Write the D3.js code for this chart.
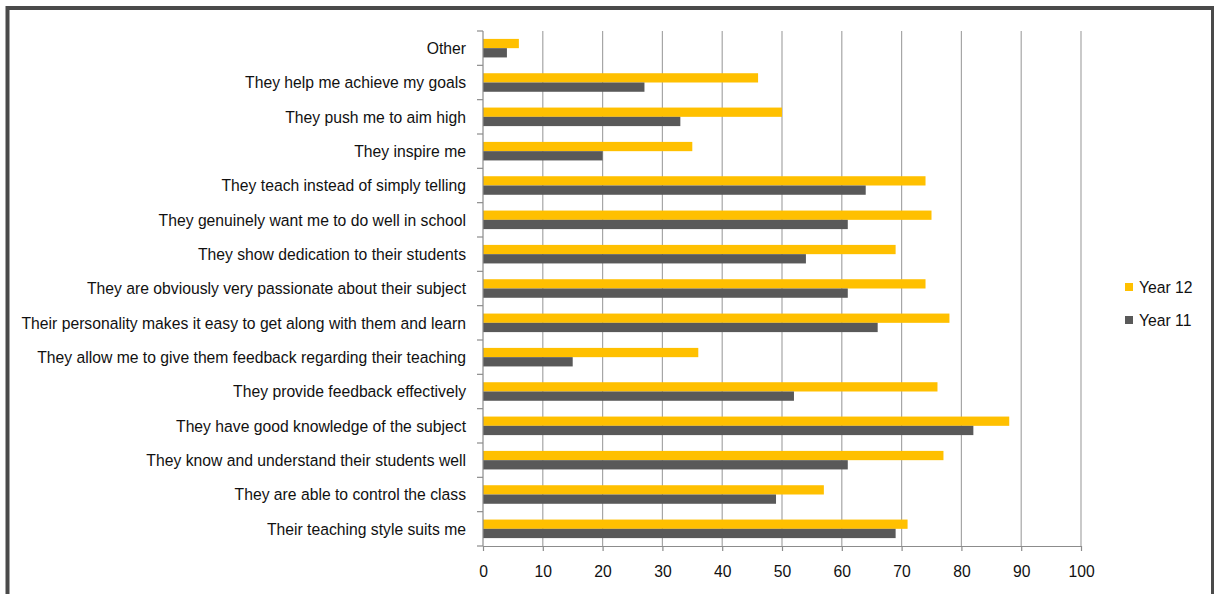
<!DOCTYPE html>
<html>
<head>
<meta charset="utf-8">
<script src="https://cdn.jsdelivr.net/npm/d3@7"></script>
<style>
  html, body { margin: 0; padding: 0; background: #fff; }
  svg { display: block; font-family: "Liberation Sans", Arial, sans-serif; }
</style>
</head>
<body>
<svg id="chart" width="1214" height="594"></svg>
<script>
// Reasons students give for valuing their teachers (percent of respondents)
const categories = [
  "Other",
  "They help me achieve my goals",
  "They push me to aim high",
  "They inspire me",
  "They teach instead of simply telling",
  "They genuinely want me to do well in school",
  "They show dedication to their students",
  "They are obviously very passionate about their subject",
  "Their personality makes it easy to get along with them and learn",
  "They allow me to give them feedback regarding their teaching",
  "They provide feedback effectively",
  "They have good knowledge of the subject",
  "They know and understand their students well",
  "They are able to control the class",
  "Their teaching style suits me"
];
const year12 = [6, 46, 50, 35, 74, 75, 69, 74, 78, 36, 76, 88, 77, 57, 71];
const year11 = [4, 27, 33, 20, 64, 61, 54, 61, 66, 15, 52, 82, 61, 49, 69];
const seriesNames = ["Year 12", "Year 11"];
const seriesColors = ["#FFC000", "#595959"];
const xTicks = [0, 10, 20, 30, 40, 50, 60, 70, 80, 90, 100];

// text is set slightly condensed
const FONT = 17, SQUEEZE = 0.925;

const svg = d3.select("#chart");

// outer frame
svg.append("rect")
  .attr("x", 7.5).attr("y", 8).attr("width", 1205.5).attr("height", 600)
  .attr("fill", "none").attr("stroke", "#4a4a4a").attr("stroke-width", 4);

const plotLeft = 483, plotRight = 1081, plotTop = 31, plotBottom = 546;

const x = d3.scaleLinear().domain([0, 100]).range([plotLeft, plotRight]);
const y = d3.scaleBand().domain(categories).range([plotTop, plotBottom]).paddingInner(0.46).paddingOuter(0.23);
const sub = d3.scaleBand().domain(seriesNames).range([0, y.bandwidth()]);

// vertical gridlines
svg.append("g").selectAll("line")
  .data(xTicks.slice(1))
  .join("line")
  .attr("x1", d => x(d)).attr("x2", d => x(d))
  .attr("y1", plotTop).attr("y2", plotBottom)
  .attr("stroke", "#a6a6a6").attr("stroke-width", 1.2);

// bars
const rows = categories.map((c, i) => ({ c, vals: [year12[i], year11[i]] }));
const groups = svg.append("g").selectAll("g")
  .data(rows)
  .join("g")
  .attr("transform", d => `translate(0,${y(d.c)})`);
groups.selectAll("rect")
  .data(d => d.vals.map((v, k) => ({ v, k })))
  .join("rect")
  .attr("x", x(0))
  .attr("y", d => sub(seriesNames[d.k]))
  .attr("width", d => x(d.v) - x(0))
  .attr("height", sub.bandwidth())
  .attr("fill", d => seriesColors[d.k]);

// category axis (ticks at band boundaries)
const bounds = d3.range(categories.length + 1).map(i => plotTop + i * (plotBottom - plotTop) / categories.length);
svg.append("line")
  .attr("x1", plotLeft).attr("x2", plotLeft).attr("y1", plotTop).attr("y2", plotBottom)
  .attr("stroke", "#8c8c8c").attr("stroke-width", 1.2);
svg.append("g").selectAll("line")
  .data(bounds)
  .join("line")
  .attr("x1", plotLeft - 6).attr("x2", plotLeft)
  .attr("y1", d => d).attr("y2", d => d)
  .attr("stroke", "#8c8c8c").attr("stroke-width", 1.2);
svg.append("g").selectAll("text")
  .data(categories)
  .join("text")
  .attr("transform", d => `translate(${plotLeft - 17},${y(d) + y.bandwidth() / 2}) scale(${SQUEEZE},1)`)
  .attr("dy", "0.35em")
  .attr("text-anchor", "end")
  .attr("font-size", FONT)
  .attr("fill", "#111")
  .text(d => d);

// value axis
const xAxis = svg.append("g")
  .attr("transform", `translate(0,${plotBottom})`)
  .call(d3.axisBottom(x).tickValues(xTicks).tickSize(5).tickPadding(14).tickSizeOuter(0));
xAxis.select(".domain").attr("stroke", "#8c8c8c").attr("stroke-width", 1.2);
xAxis.selectAll(".tick line").attr("stroke", "#8c8c8c").attr("stroke-width", 1.2);
xAxis.selectAll(".tick text")
  .attr("transform", `scale(${SQUEEZE},1)`)
  .attr("font-size", FONT)
  .attr("font-family", "\"Liberation Sans\", Arial, sans-serif")
  .attr("fill", "#111");

// legend
const legend = svg.append("g").attr("transform", "translate(1125,287)");
seriesNames.forEach((name, i) => {
  const g = legend.append("g").attr("transform", `translate(0,${i * 33})`);
  g.append("rect").attr("x", 0).attr("y", -4).attr("width", 8).attr("height", 8).attr("fill", seriesColors[i]);
  g.append("text").attr("transform", `translate(14,0) scale(${SQUEEZE},1)`).attr("dy", "0.35em")
    .attr("font-size", FONT).attr("fill", "#111").text(name);
});
</script>
</body>
</html>
